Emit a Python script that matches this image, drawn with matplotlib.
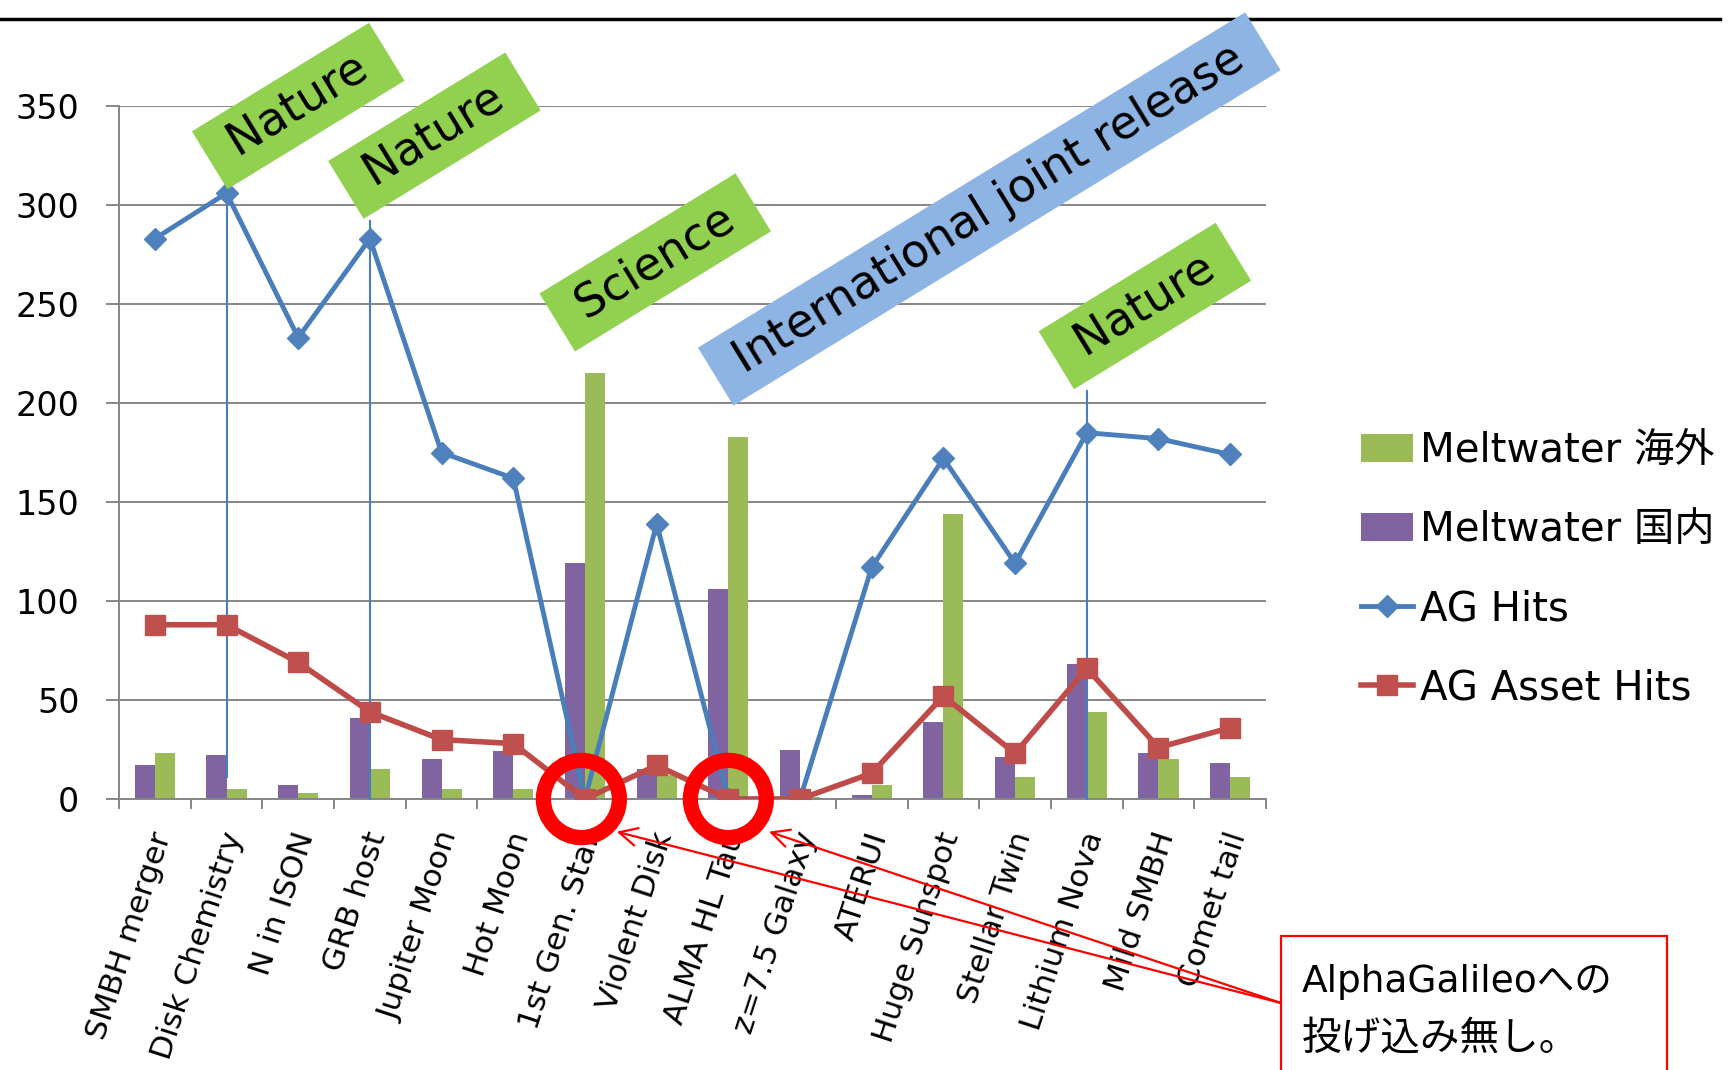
import numpy as np
import matplotlib
matplotlib.use("Agg")
import matplotlib.pyplot as plt
from matplotlib.patches import Ellipse, Rectangle
from matplotlib.lines import Line2D
import matplotlib.transforms as mtransforms

plt.rcParams['font.family'] = ['DejaVu Sans', 'Noto Sans CJK JP']

# data
categories = ["SMBH merger", "Disk Chemistry", "N in ISON", "GRB host", "Jupiter Moon",
              "Hot Moon", "1st Gen. Star", "Violent Disk", "ALMA HL Tau", "z=7.5 Galaxy",
              "ATERUI", "Huge Sunspot", "Stellar Twin", "Lithium Nova", "Mild SMBH", "Comet tail"]
meltwater_overseas = [23, 5, 3, 15, 5, 5, 215, 12, 183, 1, 7, 144, 11, 44, 20, 11]
meltwater_domestic = [17, 22, 7, 41, 20, 24, 119, 15, 106, 25, 2, 39, 21, 68, 23, 18]
ag_hits = [283, 306, 233, 283, 175, 162, 0, 139, 0, 0, 117, 172, 119, 185, 182, 174]
ag_asset_hits = [88, 88, 69, 44, 30, 28, 0, 17, 0, 0, 13, 52, 23, 66, 26, 36]

# callouts: (label, colour) and where the boxes sit
callouts = [("Nature", '#92D050'), ("Nature", '#92D050'), ("Science", '#92D050'),
            ("International joint release", '#8DB4E2'), ("Nature", '#92D050')]
callout_pos = [(2.0, 350), (3.9, 335), (6.98, 271), (11.64, 298), (13.81, 249)]
connectors = [(1, 11, 308), (3, 0, 292), (13, 0, 206)]
missing = [6, 8]  # no AlphaGalileo posting

purple = '#8064A2'
green = '#9BBB59'
blue = '#4A7EBB'
red = '#BE4B48'
gray = '#868686'

fig = plt.figure(figsize=(17.35, 10.7), dpi=100)
ax = fig.add_axes([119/1735, 271/1070, 1147/1735, 693/1070])

x = np.arange(len(categories))
w = 0.28
b_dom = ax.bar(x - w/2, meltwater_domestic, w, color=purple, zorder=2)
b_ovs = ax.bar(x + w/2, meltwater_overseas, w, color=green, zorder=2)

for cx, y0, y1 in connectors:
    ax.plot([cx, cx], [y0, y1], color=blue, lw=1.5, zorder=3, clip_on=False)

l_hits, = ax.plot(x, ag_hits, color=blue, lw=3.5, marker='D', ms=11,
                  mfc='#4F81BD', mec='#4F81BD', zorder=4)
l_asset, = ax.plot(x, ag_asset_hits, color=red, lw=4, marker='s', ms=15,
                   mfc='#C0504D', mec='#C0504D', zorder=5)

ax.set_xlim(-0.5, len(categories) - 0.5)
ax.set_ylim(0, 350)
ax.set_yticks(np.arange(0, 351, 50))
ax.yaxis.grid(True, color=gray, lw=1.4)
ax.set_axisbelow(True)
for s in ['top', 'right']:
    ax.spines[s].set_visible(False)
for s in ['left', 'bottom']:
    ax.spines[s].set_color(gray)
    ax.spines[s].set_linewidth(1.4)

ax.tick_params(axis='y', length=9.5, width=1.4, color=gray, pad=19, labelsize=24)
ax.set_xticks(x)
ax.set_xticks(np.arange(-0.5, len(categories)), minor=True)
ax.set_xticklabels(categories, rotation=72, ha='right', va='top', rotation_mode='anchor', fontsize=22.5)
ax.tick_params(axis='x', which='major', length=0, pad=21)
ax.tick_params(axis='x', which='minor', length=7.5, width=1.4, color=gray)
offset = mtransforms.ScaledTranslation(-6/100, 0, fig.dpi_scale_trans)
for lab in ax.get_xticklabels():
    lab.set_transform(lab.get_transform() + offset)

for (label, col), (cx, cy) in zip(callouts, callout_pos):
    ax.text(cx, cy, ' ' + label + ' ', rotation=31.5, rotation_mode='anchor',
            ha='center', va='center', fontsize=33, color='black', zorder=8, clip_on=False,
            bbox=dict(boxstyle='square,pad=0.25', fc=col, ec='none'))

for idx in missing:
    ax.add_patch(Ellipse((idx - 0.05 if idx == 6 else idx, 0), 1.06, 39, fill=False,
                         ec='#FF0000', lw=11, zorder=9, clip_on=False))

for tip in [(616.7/1735, 1 - 831.7/1070), (768.9/1735, 1 - 831.7/1070)]:
    ax.annotate('', xy=tip, xytext=(1281/1735, 1 - 1003/1070),
                xycoords='figure fraction', textcoords='figure fraction',
                arrowprops=dict(arrowstyle='->', color='#FF0000', lw=1.6,
                                mutation_scale=32, shrinkA=0, shrinkB=0),
                zorder=9, annotation_clip=False)

fig.add_artist(Rectangle((1281/1735, -0.05), 386/1735, 0.05 + (1070 - 936)/1070,
                         transform=fig.transFigure, fc='white', ec='#FF0000', lw=1.6, zorder=3))
fig.text(1302/1735, 1 - 992/1070, 'AlphaGalileoへの', fontsize=27, va='baseline', zorder=4)
fig.text(1302/1735, 1 - 1050/1070, '投げ込み無し。', fontsize=28.5, va='baseline', zorder=4)

fig.add_artist(Line2D([0, 1720/1735], [1 - 19/1070] * 2, color='black', lw=2.5, zorder=-1))

fig.legend([b_ovs, b_dom, l_hits, l_asset],
           ['Meltwater 海外', 'Meltwater 国内', 'AG Hits', 'AG Asset Hits'],
           loc='upper left', bbox_to_anchor=(1361/1735, 1 - 431/1070),
           frameon=False, fontsize=29, borderpad=0, borderaxespad=0,
           handlelength=1.3, handletextpad=0.17, labelspacing=0.97)

fig.savefig('out.png', dpi=100)
